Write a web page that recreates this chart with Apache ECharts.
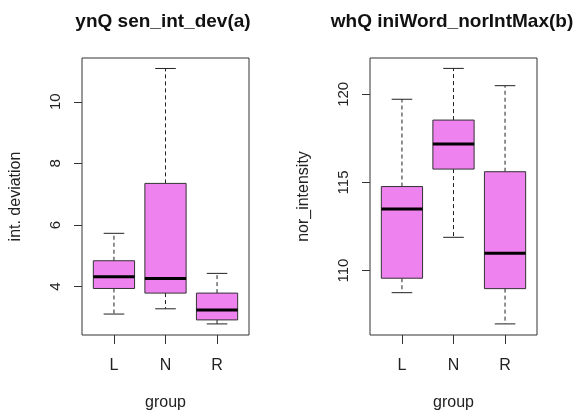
<!DOCTYPE html>
<html>
<head>
<meta charset="utf-8">
<script src="https://cdn.jsdelivr.net/npm/echarts@6/dist/echarts.min.js"></script>
<style>
  html, body { margin: 0; padding: 0; background: #fff; }
  #chart { width: 578px; height: 416px; }
</style>
</head>
<body>
<div id="chart"></div>
<script>
// groups on the x axis
const groups = ['L', 'N', 'R'];

// panel (a): int. deviation, five-number summaries per group
const devLow = [3.11, 3.28, 2.79];
const devQ1 = [3.94, 3.79, 2.92];
const devMedian = [4.32, 4.26, 3.24];
const devQ3 = [4.84, 7.35, 3.79];
const devHigh = [5.73, 11.08, 4.43];
const devTicks = [4, 6, 8, 10];

// panel (b): nor_intensity
const norLow = [108.75, 111.89, 106.98];
const norQ1 = [109.57, 115.76, 108.98];
const norMedian = [113.5, 117.18, 110.99];
const norQ3 = [114.77, 118.54, 115.61];
const norHigh = [119.72, 121.47, 120.49];
const norTicks = [110, 115, 120];

const groupTicks = [1, 2, 3];

function buildRows(lo, q1, med, q3, hi) {
  return groups.map((g, i) => [i + 1, lo[i], q1[i], med[i], q3[i], hi[i]]);
}

function renderBox(params, api) {
  const x = api.value(0);
  const lo = api.coord([x, api.value(1)]);
  const q1 = api.coord([x, api.value(2)]);
  const med = api.coord([x, api.value(3)]);
  const q3 = api.coord([x, api.value(4)]);
  const hi = api.coord([x, api.value(5)]);
  const halfBox = api.size([0.8, 0])[0] / 2;
  const halfCap = api.size([0.4, 0])[0] / 2;
  const cx = lo[0];
  const dashed = { stroke: '#222', lineWidth: 1, lineDash: [4, 3] };
  const solid = { stroke: '#222', lineWidth: 1 };
  return {
    type: 'group',
    children: [
      { type: 'line', shape: { x1: cx, y1: q3[1], x2: cx, y2: hi[1] }, style: dashed },
      { type: 'line', shape: { x1: cx, y1: q1[1], x2: cx, y2: lo[1] }, style: dashed },
      { type: 'line', shape: { x1: cx - halfCap, y1: hi[1], x2: cx + halfCap, y2: hi[1] }, style: solid },
      { type: 'line', shape: { x1: cx - halfCap, y1: lo[1], x2: cx + halfCap, y2: lo[1] }, style: solid },
      {
        type: 'rect',
        shape: { x: cx - halfBox, y: q3[1], width: halfBox * 2, height: q1[1] - q3[1] },
        style: { fill: '#EE82EE', stroke: '#333', lineWidth: 1 }
      },
      { type: 'line', shape: { x1: cx - halfBox, y1: med[1], x2: cx + halfBox, y2: med[1] }, style: { stroke: '#000', lineWidth: 3 } }
    ]
  };
}

const textColor = '#222';
const fontFamily = 'Liberation Sans, Arial, sans-serif';

function makeXAxis(gridIndex) {
  return {
    type: 'value', gridIndex: gridIndex, min: 0.38, max: 3.62,
    name: 'group', nameLocation: 'middle', nameGap: 60,
    nameTextStyle: { color: textColor, fontSize: 16, fontFamily: fontFamily },
    axisLine: { show: false },
    splitLine: { show: false },
    axisTick: { show: true, length: 9, customValues: groupTicks, lineStyle: { color: '#333' } },
    axisLabel: {
      customValues: groupTicks, margin: 23, color: textColor, fontSize: 16, fontFamily: fontFamily,
      formatter: (v) => groups[Math.round(v) - 1]
    }
  };
}

function makeYAxis(gridIndex, min, max, ticks, name) {
  return {
    type: 'value', gridIndex: gridIndex, min: min, max: max,
    name: name, nameLocation: 'middle', nameGap: 58,
    nameTextStyle: { color: textColor, fontSize: 16, fontFamily: fontFamily },
    axisLine: { show: false },
    splitLine: { show: false },
    axisTick: { show: true, length: 8, customValues: ticks, lineStyle: { color: '#333' } },
    axisLabel: {
      customValues: ticks, rotate: 90, margin: 19, color: textColor, fontSize: 15, fontFamily: fontFamily
    }
  };
}

const chart = echarts.init(document.getElementById('chart'));
chart.setOption({
  animation: false,
  backgroundColor: '#fff',
  graphic: [
    {
      type: 'text', x: 163, y: 12,
      style: { text: 'ynQ sen_int_dev(a)', fill: '#111', font: 'bold 19px ' + fontFamily, textAlign: 'center', textVerticalAlign: 'top' }
    },
    {
      type: 'text', x: 452, y: 12,
      style: { text: 'whQ iniWord_norIntMax(b)', fill: '#111', font: 'bold 19px ' + fontFamily, textAlign: 'center', textVerticalAlign: 'top' }
    }
  ],
  grid: [
    { left: 82, top: 58, width: 167, height: 277, show: true, borderColor: '#333', borderWidth: 1, backgroundColor: 'transparent' },
    { left: 370, top: 58, width: 167, height: 277, show: true, borderColor: '#333', borderWidth: 1, backgroundColor: 'transparent' }
  ],
  xAxis: [makeXAxis(0), makeXAxis(1)],
  yAxis: [
    makeYAxis(0, 2.43, 11.42, devTicks, 'int. deviation'),
    makeYAxis(1, 106.35, 122.06, norTicks, 'nor_intensity')
  ],
  series: [
    {
      type: 'custom', xAxisIndex: 0, yAxisIndex: 0,
      renderItem: renderBox,
      encode: { x: 0, y: [1, 2, 3, 4, 5] },
      data: buildRows(devLow, devQ1, devMedian, devQ3, devHigh)
    },
    {
      type: 'custom', xAxisIndex: 1, yAxisIndex: 1,
      renderItem: renderBox,
      encode: { x: 0, y: [1, 2, 3, 4, 5] },
      data: buildRows(norLow, norQ1, norMedian, norQ3, norHigh)
    }
  ]
});
</script>
</body>
</html>
